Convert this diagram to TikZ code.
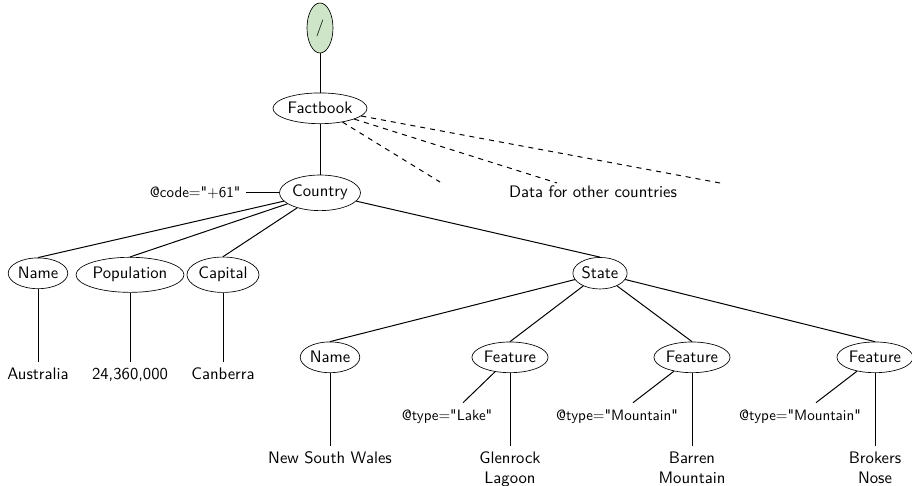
\documentclass[tikz,border=0pt]{standalone}
\usepackage{fontspec}
\newfontfamily\attrfont{lmsans10-regular.otf}
\usetikzlibrary{shapes.geometric}
\definecolor{rootgreen}{RGB}{207,229,200}
\begin{document}
\begin{tikzpicture}[x=0.6pt,y=-0.6pt,
  every node/.style={font=\sffamily},
  elem/.style={draw,ellipse,inner xsep=0.5pt,inner ysep=3pt,anchor=base},
  leaf/.style={align=center,anchor=north},
  attr/.style={font=\attrfont\small},
  edge/.style={semithick},
  dedge/.style={semithick,dashed}]
\useasboundingbox (0,0) rectangle (912,486);

% nodes
\node[draw,ellipse,fill=rootgreen,minimum width=15.6pt,minimum height=30pt,inner sep=0pt] (root) at (320,28) {/};
\node[elem] (fb) at (320,114) {Factbook};
\node[elem] (country) at (320,197) {Country};
\node[attr,anchor=east] (code) at ([xshift=-19.8pt]country.west) {@code="+61"};

\node[elem] (name1) at (38,279) {Name};
\node[elem] (pop) at (130,279) {Population};
\node[elem] (cap) at (223,279) {Capital};
\node[elem] (state) at (600,279) {State};

\node[leaf] (aus) at (38,362) {Australia};
\node[leaf] (popv) at (130,362) {24,360,000};
\node[leaf] (capv) at (223,362) {Canberra};

\node[elem] (name2) at (330,363) {Name};
\node[elem] (f1) at (510,363) {Feature};
\node[elem] (f2) at (692,363) {Feature};
\node[elem] (f3) at (875,363) {Feature};

\node[attr,anchor=base] (lake) at (447,421) {@type="Lake"};
\node[attr,anchor=base] (mt1) at (617,421) {@type="Mountain"};
\node[attr,anchor=base] (mt2) at (800,421) {@type="Mountain"};

\node[leaf] (nsw) at (330,446) {New South Wales};
\node[leaf] (glen) at (510,446) {Glenrock\\Lagoon};
\node[leaf] (barren) at (692,446) {Barren\\Mountain};
\node[leaf] (brok) at (875,446) {Brokers\\Nose};

\node[anchor=base] (other) at (593,198) {Data for other countries};
\coordinate (o1) at (440,182);
\coordinate (o2) at (557,183);
\coordinate (o3) at (720,183);

% edges
\draw[edge] (root) -- (fb);
\draw[edge] (fb) -- (country);
\draw[dedge] (fb) -- (o1);
\draw[dedge] (fb) -- (o2);
\draw[dedge] (fb) -- (o3);
\draw[edge] (code) -- (country);
\draw[edge] (country) -- (name1.north);
\draw[edge] (country) -- (pop.north);
\draw[edge] (country) -- (cap.north);
\draw[edge] (country) -- (state.north);
\draw[edge] (name1) -- (aus);
\draw[edge] (pop) -- (popv);
\draw[edge] (cap) -- (capv);
\draw[edge] (state) -- (name2.north);
\draw[edge] (state) -- (f1.north);
\draw[edge] (state) -- (f2.north);
\draw[edge] (state) -- (f3.north);
\draw[edge] (name2) -- (nsw);
\draw[edge] (f1) -- ([xshift=9.6pt,yshift=1pt]lake.north);
\draw[edge] (f2) -- ([xshift=9.6pt,yshift=1pt]mt1.north);
\draw[edge] (f3) -- ([xshift=9.6pt,yshift=1pt]mt2.north);
\draw[edge] (f1) -- (glen);
\draw[edge] (f2) -- (barren);
\draw[edge] (f3) -- (brok);
\end{tikzpicture}
\end{document}
